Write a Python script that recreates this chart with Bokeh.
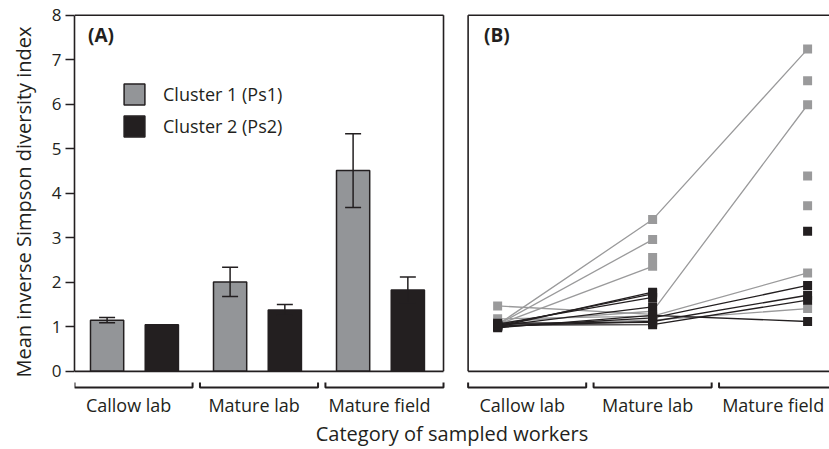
import math
from bokeh.plotting import figure
from bokeh.models import (ColumnDataSource, Whisker, TeeHead, Label, Legend, LegendItem,
                          FixedTicker, Range1d)
from bokeh.embed import file_html
from bokeh.resources import INLINE

# ---------------- data ----------------
categories = ["Callow lab", "Mature lab", "Mature field"]
clusters = ["Cluster 1 (Ps1)", "Cluster 2 (Ps2)"]

# Panel A: means and standard errors
ps1_mean = [1.15, 2.01, 4.51]
ps1_err = [0.06, 0.33, 0.83]
ps2_mean = [1.05, 1.38, 1.83]
ps2_err = [0.0, 0.12, 0.29]

# Panel B: individual colonies (nan = not sampled / no link)
nan = float("nan")
ps1_callow = [1.05, 1.05, 1.05, nan, 1.10, 1.47, 1.18, 1.05, nan, nan, nan]
ps1_mature_lab = [3.41, 2.96, 2.36, 2.56, 1.35, 1.28, 1.24, 1.15, nan, nan, nan]
ps1_mature_field = [7.24, nan, nan, nan, 5.99, nan, 2.21, 1.41, 6.53, 4.39, 3.72]

ps2_callow = [1.00, 1.03, 1.06, 1.02, 1.00, 1.04, 0.98, 1.02, nan, 1.08]
ps2_mature_lab = [1.78, 1.74, 1.66, 1.45, 1.20, 1.05, 1.26, 1.12, nan, 1.10]
ps2_mature_field = [nan, nan, nan, nan, 1.93, 1.60, 1.12, 1.71, 3.15, nan]

y_ticks = [0, 1, 2, 3, 4, 5, 6, 7, 8]

# ---------------- style / layout ----------------
FONT = "Open Sans"
DARK = "#231f20"
GRAY = "#939598"
GRAY_B = "#9a9a9b"

X_MAX = 6.138
Y_MIN, Y_MAX = -0.43, 8.04
A_LEFT, A_RIGHT = 0.0, 3.0
B_LEFT = 3.2
GROUP_W, GROUP_STEP = 0.96, 1.02
BAR_W = 0.27
OFF_PS1, OFF_PS2 = 0.265, 0.71
B_POINT_OFF, B_POINT_STEP = 0.24, 1.26
BRACKET_Y, BRACKET_TIP = -0.36, -0.25
LABEL_SHIFT = -0.04

p = figure(width=829, height=449, title=None,
           x_range=Range1d(0, X_MAX), y_range=Range1d(Y_MIN, Y_MAX),
           min_border_left=74, min_border_right=0, min_border_top=13, min_border_bottom=59,
           outline_line_color=None, toolbar_location=None, output_backend="svg")
p.grid.visible = False
p.background_fill_color = "white"

# ---------- y axis ----------
yax = p.yaxis[0]
yax.bounds = (0, 8)
yax.ticker = FixedTicker(ticks=y_ticks)
yax.minor_tick_line_color = None
yax.major_tick_in = 0
yax.major_tick_out = 9
yax.axis_line_width = 1.6
yax.axis_line_color = DARK
yax.major_tick_line_color = DARK
yax.major_tick_line_width = 1.6
yax.major_label_text_font = FONT
yax.major_label_text_font_size = "17px"
yax.major_label_text_color = DARK
yax.major_label_standoff = 4
yax.axis_label = "Mean inverse Simpson diversity index"
yax.axis_label_text_font = FONT
yax.axis_label_text_font_size = "20px"
yax.axis_label_text_font_style = "normal"
yax.axis_label_text_color = DARK
yax.axis_label_standoff = 12

# ---------- bracket groups & category labels ----------
def group_starts(left):
    return [left + i * GROUP_STEP for i in range(len(categories))]

label_pos = []
label_txt = {}
bx, by = [], []
for left in (A_LEFT, B_LEFT):
    for i, s in enumerate(group_starts(left)):
        e = s + GROUP_W
        bx.append([s, s, e, e])
        by.append([BRACKET_TIP, BRACKET_Y, BRACKET_Y, BRACKET_TIP])
        c = round(s + GROUP_W / 2 + LABEL_SHIFT, 4)
        label_pos.append(c)
        label_txt[c] = categories[i]
p.multi_line(xs=bx, ys=by, line_color=DARK, line_width=2)

xax = p.xaxis[0]
xax.ticker = FixedTicker(ticks=label_pos)
xax.major_label_overrides = label_txt
xax.axis_line_color = None
xax.major_tick_line_color = None
xax.minor_tick_line_color = None
xax.major_tick_in = 0
xax.major_tick_out = 0
xax.minor_tick_out = 0
xax.major_label_text_font = FONT
xax.major_label_text_font_size = "18px"
xax.major_label_text_color = DARK
xax.major_label_standoff = 2
xax.axis_label = "Category of sampled workers"
xax.axis_label_text_font = FONT
xax.axis_label_text_font_size = "20px"
xax.axis_label_text_font_style = "normal"
xax.axis_label_text_color = DARK
xax.axis_label_standoff = 0

# ---------- panel A bars ----------
xa1 = [A_LEFT + i + OFF_PS1 for i in range(len(categories))]
xa2 = [A_LEFT + i + OFF_PS2 for i in range(len(categories))]
src1 = ColumnDataSource(dict(x=xa1, top=ps1_mean))
src2 = ColumnDataSource(dict(x=xa2, top=ps2_mean))
r1 = p.vbar(x="x", top="top", bottom=0, width=BAR_W, source=src1,
            fill_color=GRAY, line_color=DARK, line_width=1.5)
r2 = p.vbar(x="x", top="top", bottom=0, width=BAR_W, source=src2,
            fill_color=DARK, line_color=DARK, line_width=1.5)

wb, wl, wu = [], [], []
for xs_, m_, e_ in ((xa1, ps1_mean, ps1_err), (xa2, ps2_mean, ps2_err)):
    for x_, m, e in zip(xs_, m_, e_):
        if e > 0:
            wb.append(x_)
            wl.append(m - e)
            wu.append(m + e)
wsrc = ColumnDataSource(dict(base=wb, lower=wl, upper=wu))
p.add_layout(Whisker(source=wsrc, base="base", lower="lower", upper="upper",
                     dimension="height", line_color=DARK, line_width=1.5, level="overlay",
                     upper_head=TeeHead(size=16, line_color=DARK, line_width=1.5),
                     lower_head=TeeHead(size=16, line_color=DARK, line_width=1.5)))

legend = Legend(items=[LegendItem(label=clusters[0], renderers=[r1]),
                       LegendItem(label=clusters[1], renderers=[r2])],
                location=(47, 251), glyph_width=26, glyph_height=26,
                label_text_font=FONT, label_text_font_size="18px", label_text_color=DARK,
                label_standoff=16, spacing=6, padding=0, margin=0,
                border_line_color=None, background_fill_alpha=0)
p.add_layout(legend)

# ---------- panel box lines ----------
box = dict(
    x0=[A_LEFT, A_RIGHT, A_LEFT, B_LEFT, B_LEFT, B_LEFT],
    y0=[8, 0, 0, 0, 8, 0],
    x1=[A_RIGHT, A_RIGHT, A_RIGHT, B_LEFT, X_MAX, X_MAX],
    y1=[8, 8, 0, 8, 8, 0],
)
p.segment(x0="x0", y0="y0", x1="x1", y1="y1", source=ColumnDataSource(box),
          line_color=DARK, line_width=1.6)

# ---------- panel B ----------
xb = [B_LEFT + B_POINT_OFF + i * B_POINT_STEP for i in range(len(categories))]

def series(cal, lab, fld):
    xs, ys, px, py = [], [], [], []
    for a, b, c in zip(cal, lab, fld):
        xs.append(list(xb))
        ys.append([a, b, c])
        for xv, yv in zip(xb, (a, b, c)):
            if not math.isnan(yv):
                px.append(xv)
                py.append(yv)
    return xs, ys, px, py

gxs, gys, gpx, gpy = series(ps1_callow, ps1_mature_lab, ps1_mature_field)
kxs, kys, kpx, kpy = series(ps2_callow, ps2_mature_lab, ps2_mature_field)

p.multi_line(xs=gxs, ys=gys, line_color=GRAY_B, line_width=1.3)
p.scatter(x=gpx, y=gpy, marker="square", size=9, fill_color=GRAY_B, line_color=None)
p.multi_line(xs=kxs, ys=kys, line_color=DARK, line_width=1.3)
p.scatter(x=kpx, y=kpy, marker="square", size=9, fill_color=DARK, line_color=None)

# ---------- panel labels ----------
for x_, t in ((A_LEFT + 0.11, "(A)"), (B_LEFT + 0.13, "(B)")):
    p.add_layout(Label(x=x_, y=7.55, text=t, text_font=FONT, text_font_size="19px",
                       text_font_style="bold", text_baseline="middle", text_color=DARK))

open("out.html", "w").write(file_html(p, INLINE))
